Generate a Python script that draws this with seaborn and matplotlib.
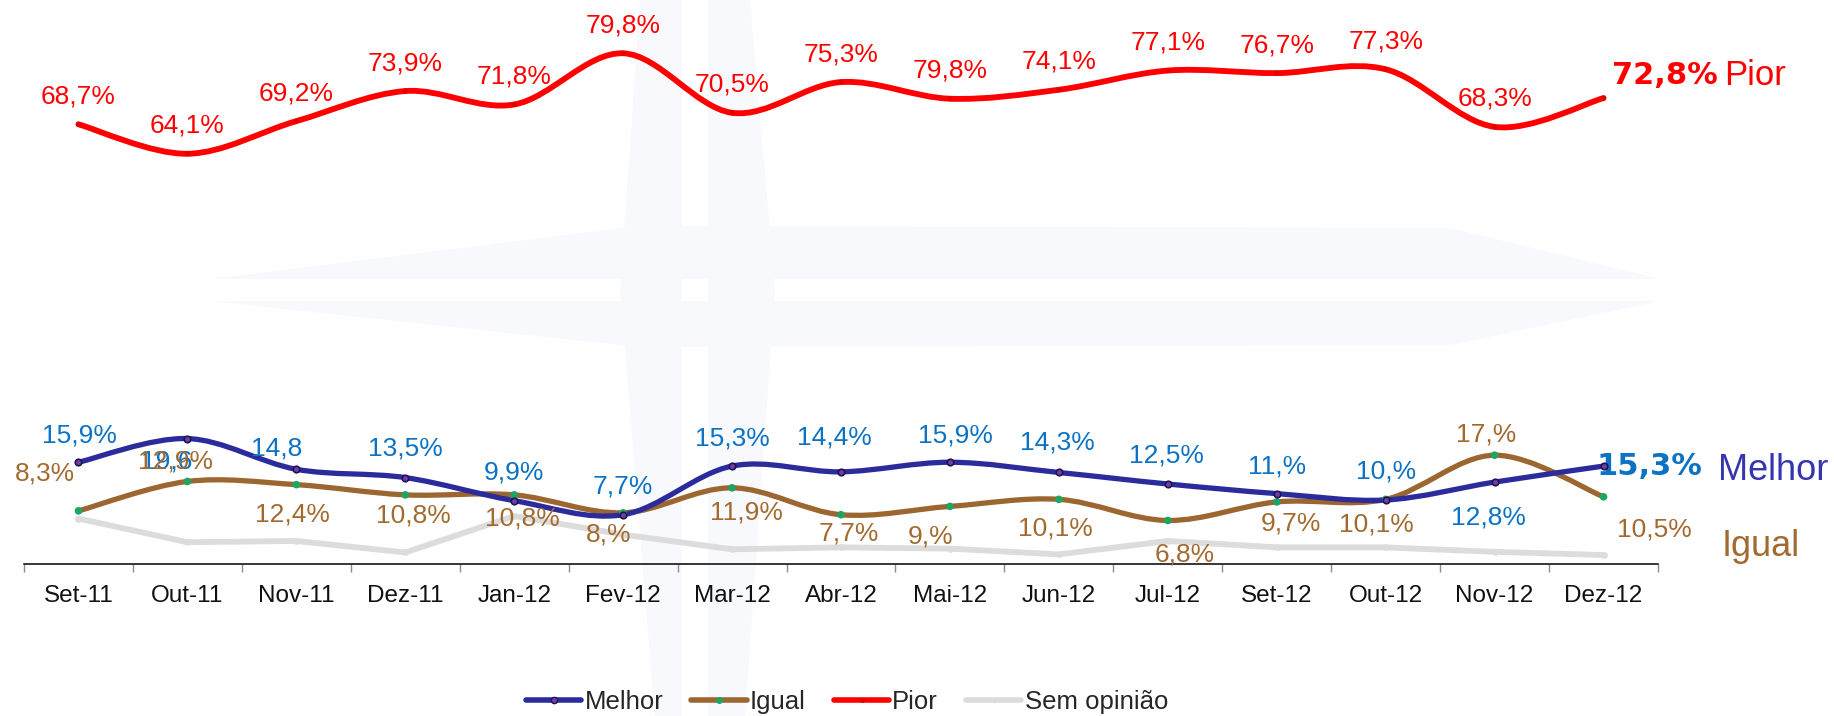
import numpy as np
import pandas as pd
import matplotlib
matplotlib.use('Agg')
import matplotlib.pyplot as plt
from matplotlib.path import Path
from matplotlib.patches import PathPatch, Polygon
from matplotlib.lines import Line2D
import seaborn as sns

# --- data ---
meses = ['Set-11', 'Out-11', 'Nov-11', 'Dez-11', 'Jan-12', 'Fev-12', 'Mar-12', 'Abr-12',
         'Mai-12', 'Jun-12', 'Jul-12', 'Set-12', 'Out-12', 'Nov-12', 'Dez-12']
melhor = [15.9, 19.6, 14.8, 13.5, 9.9, 7.7, 15.3, 14.4, 15.9, 14.3, 12.5, 11.0, 10.0, 12.8, 15.3]
igual = [8.3, 12.9, 12.4, 10.8, 10.8, 8.0, 11.9, 7.7, 9.0, 10.1, 6.8, 9.7, 10.1, 17.0, 10.5]
pior = [68.7, 64.1, 69.2, 73.9, 71.8, 79.8, 70.5, 75.3, 72.7, 74.1, 77.1, 76.7, 77.3, 68.3, 72.8]
sem_opiniao = [7.1, 3.4, 3.6, 1.8, 7.5, 4.6, 2.3, 2.6, 2.4, 1.5, 3.6, 2.6, 2.6, 1.9, 1.4]

# labels as printed on the original (some don't match the line)
melhor_lbl = ['15,9%', '19,6', '14,8', '13,5%', '9,9%', '7,7%', '15,3%', '14,4%', '15,9%',
              '14,3%', '12,5%', '11,%', '10,%', '12,8%', '15,3%']
igual_lbl = ['8,3%', '12,9%', '12,4%', '10,8%', '10,8%', '8,%', '11,9%', '7,7%', '9,%',
             '10,1%', '6,8%', '9,7%', '10,1%', '17,%', '10,5%']
pior_lbl = ['68,7%', '64,1%', '69,2%', '73,9%', '71,8%', '79,8%', '70,5%', '75,3%', '79,8%',
            '74,1%', '77,1%', '76,7%', '77,3%', '68,3%', '72,8%']

# label offsets in pixels (dx, dy up)
melhor_off = [(1, 27), (-21, -23), (-20, 21), (0, 29), (0, 28), (0, 28), (0, 28), (-7, 34),
              (6, 27), (-1, 30), (-1, 28), (0, 27), (0, 28), (-6, -35)]
igual_off = [(-34, 37), (-12, 20), (-4, -30), (8, -21), (8, -24), (-15, -22), (14, -25),
             (8, -19), (-19, -30), (-3, -29), (17, -34), (14, -22), (-9, -25), (-8, 21), (51, -33)]

C_MELHOR = '#2B2B9C'
C_IGUAL = '#9C6630'
C_PIOR = '#FF0000'
C_SEM = '#DCDCDC'
T_MELHOR = '#0B72C4'
T_IGUAL = '#A36A30'

sns.set_style('white')
plt.rcParams['font.family'] = ['Liberation Sans', 'DejaVu Sans']

df = pd.DataFrame({'mes': meses, 'x': np.arange(len(meses)), 'Melhor': melhor,
                   'Igual': igual, 'Pior': pior, 'Sem opinião': sem_opiniao})

W, H = 1834, 716
fig = plt.figure(figsize=(W / 100, H / 100), dpi=100)

# faint compass watermark in the background (pixel coords -> figure fraction)
def px(pts):
    return [(x / W, 1 - y / H) for x, y in pts]

wm = '#F7F9FC'
for shape in [
    [(640, 0), (682, 0), (682, 716), (655, 716), (620, 290)],
    [(708, 0), (750, 0), (775, 290), (745, 716), (708, 716)],
    [(210, 279), (640, 226), (1450, 228), (1660, 279)],
    [(210, 301), (1660, 301), (1450, 345), (640, 347)],
]:
    fig.patches.append(Polygon(px(shape), closed=True, transform=fig.transFigure,
                               facecolor=wm, edgecolor='none', zorder=-5))

ax = fig.add_axes([24 / W, (H - 564) / H, (1658 - 24) / W, 563.2 / H])
ax.patch.set_alpha(0)


def smooth_path(xs, ys):
    pts = np.column_stack([xs, ys]).astype(float)
    n = len(pts)
    verts = [pts[0]]
    codes = [Path.MOVETO]
    for i in range(n - 1):
        p0 = pts[max(i - 1, 0)]
        p1 = pts[i]
        p2 = pts[i + 1]
        p3 = pts[min(i + 2, n - 1)]
        verts += [p1 + (p2 - p0) / 6, p2 - (p3 - p1) / 6, p2]
        codes += [Path.CURVE4] * 3
    return Path(verts, codes)


# Sem opiniao: straight segments
sns.lineplot(data=df, x='x', y='Sem opinião', color=C_SEM, lw=4.2, marker='o', ms=4,
             mec=C_SEM, ax=ax, zorder=2)

# smoothed series
for col, color, lw in [('Igual', C_IGUAL, 3.8), ('Melhor', C_MELHOR, 3.8), ('Pior', C_PIOR, 4.2)]:
    ax.add_patch(PathPatch(smooth_path(df['x'], df[col]), facecolor='none', edgecolor=color,
                           lw=lw, capstyle='round', zorder=3))

sns.scatterplot(data=df, x='x', y='Igual', color='#1FA463', s=30, edgecolor='none', ax=ax, zorder=4)
sns.scatterplot(data=df, x='x', y='Melhor', color='#7A3C9C', s=22, edgecolor='#16165A',
                linewidth=1.2, ax=ax, zorder=4)
sns.scatterplot(data=df, x='x', y='Pior', color='#E00000', s=14, edgecolor='none', ax=ax, zorder=4)

# data labels
fs = 19
for i, (v, t) in enumerate(zip(pior[:-1], pior_lbl[:-1])):
    ax.annotate(t, (i, v), xytext=(0, 28), textcoords='offset pixels', ha='center', va='center',
                color=C_PIOR, fontsize=fs, annotation_clip=False)
for i, (v, t) in enumerate(zip(melhor[:-1], melhor_lbl[:-1])):
    ax.annotate(t, (i, v), xytext=melhor_off[i], textcoords='offset pixels', ha='center',
                va='center', color=T_MELHOR, fontsize=fs, annotation_clip=False)
for i, (v, t) in enumerate(zip(igual, igual_lbl)):
    ax.annotate(t, (i, v), xytext=igual_off[i], textcoords='offset pixels', ha='center',
                va='center', color=T_IGUAL, fontsize=fs, annotation_clip=False)

# end-of-line labels
n = len(meses) - 1
ax.annotate(pior_lbl[-1], (n, pior[-1]), xytext=(8, 23), textcoords='offset pixels', ha='left',
            va='center', color=C_PIOR, fontsize=22, fontweight='bold', family='DejaVu Sans',
            annotation_clip=False)
ax.annotate('Pior', (n, pior[-1]), xytext=(121, 23), textcoords='offset pixels', ha='left',
            va='center', color=C_PIOR, fontsize=25, annotation_clip=False)
ax.annotate(melhor_lbl[-1], (n, melhor[-1]), xytext=(-7, 0), textcoords='offset pixels',
            ha='left', va='center', color=T_MELHOR, fontsize=22, fontweight='bold',
            family='DejaVu Sans', annotation_clip=False)
ax.annotate('Melhor', (n, melhor[-1]), xytext=(114, -4), textcoords='offset pixels', ha='left',
            va='center', color='#3535AE', fontsize=26, annotation_clip=False)
ax.annotate('Igual', (n, igual[-1]), xytext=(118, -50), textcoords='offset pixels', ha='left',
            va='center', color=T_IGUAL, fontsize=26, annotation_clip=False)

# axes
ax.set_xlim(-0.5, len(meses) - 0.5)
ax.set_ylim(0, 88)
ax.set_xticks(np.arange(-0.5, len(meses), 1))
ax.set_xticklabels([])
ax.set_xticks(np.arange(len(meses)), minor=True)
ax.set_xticklabels(meses, minor=True, fontsize=17.5)
ax.tick_params(axis='x', which='major', length=5.8, width=1, color='#8C8C8C', direction='out',
               bottom=True)
ax.tick_params(axis='x', which='minor', length=0, pad=15, colors='#111111')
ax.set_yticks([])
ax.set_xlabel('')
ax.set_ylabel('')
for s in ['left', 'right', 'top']:
    ax.spines[s].set_visible(False)
ax.spines['bottom'].set_color('black')
ax.spines['bottom'].set_linewidth(1.1)

handles = [
    Line2D([0], [0], color=C_MELHOR, lw=4, marker='o', ms=4.5, mfc='#7A3C9C', mec='#16165A'),
    Line2D([0], [0], color=C_IGUAL, lw=4, marker='o', ms=5, mfc='#1FA463', mec='none'),
    Line2D([0], [0], color=C_PIOR, lw=4, marker='o', ms=3.5, mfc='#E00000', mec='none'),
    Line2D([0], [0], color=C_SEM, lw=4, marker='o', ms=4, mfc=C_SEM, mec='none'),
]
fig.legend(handles, ['Melhor', 'Igual', 'Pior', 'Sem opinião'], loc='center',
           bbox_to_anchor=(847 / W, (H - 702) / H), ncol=4, frameon=False, fontsize=18.5,
           handlelength=2.15, handletextpad=0.12, columnspacing=1.1, borderpad=0)

fig.savefig('out.png', dpi=100)
